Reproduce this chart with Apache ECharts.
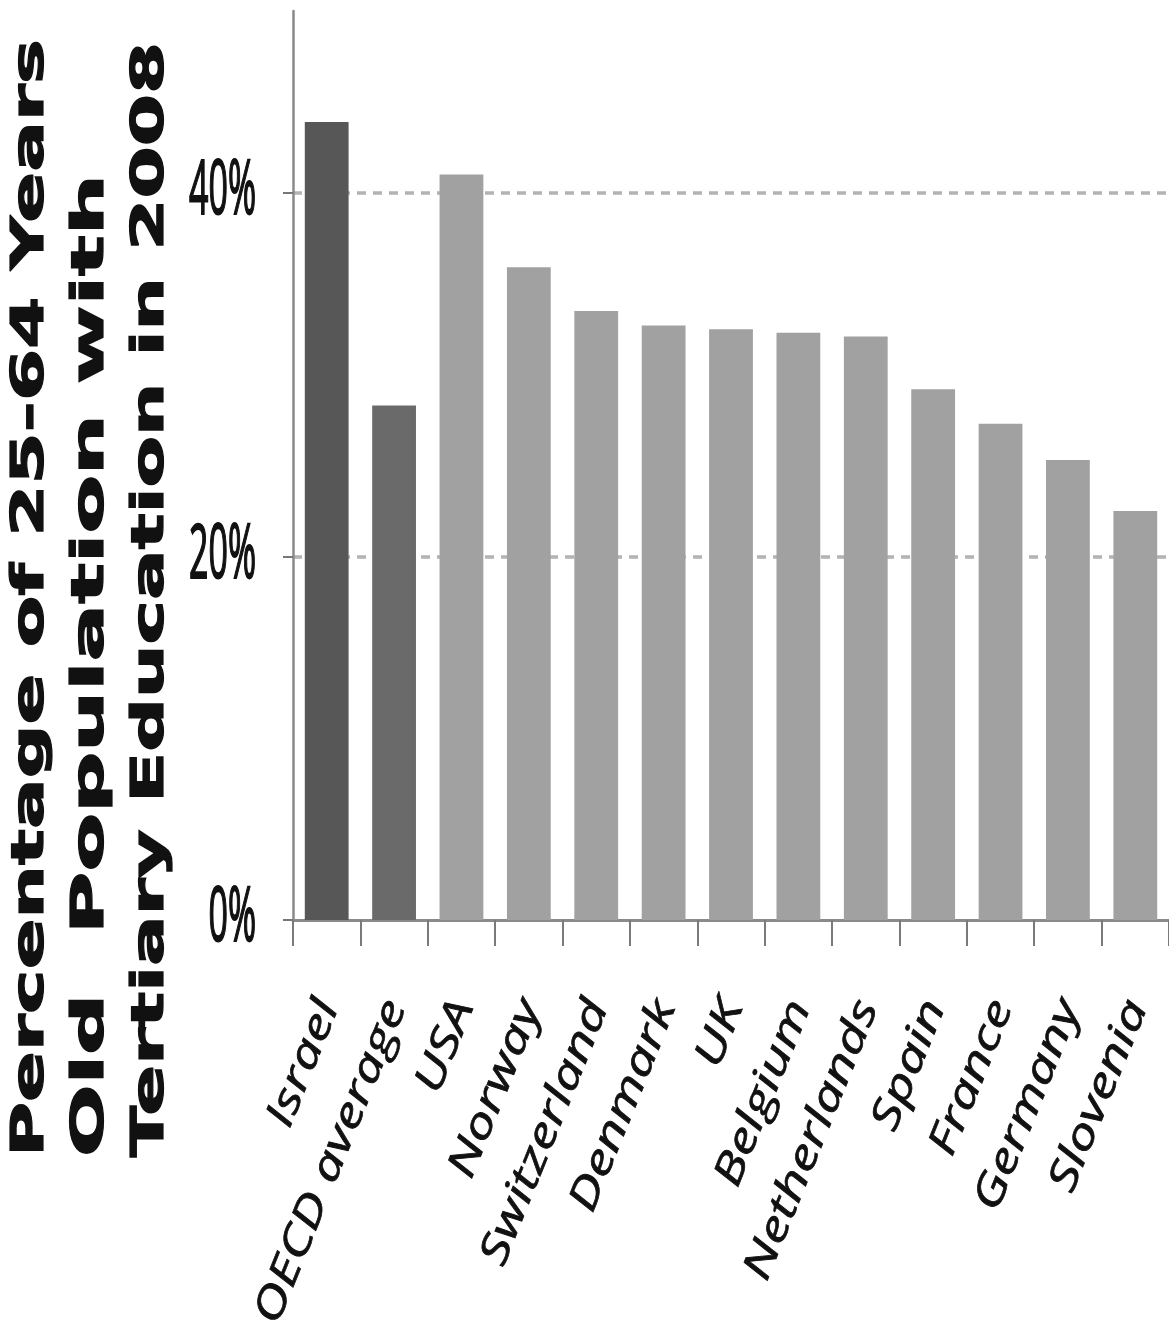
<!DOCTYPE html>
<html>
<head>
<meta charset="utf-8">
<script src="https://cdn.jsdelivr.net/npm/echarts@6/dist/echarts.min.js"></script>
<style>
  html, body { margin: 0; padding: 0; background: #fff; }
  #chart { width: 1169px; height: 1337px; }
</style>
</head>
<body>
<div id="chart"></div>
<script>
// countries, in the order they appear
var countries = ['Israel', 'OECD average', 'USA', 'Norway', 'Switzerland', 'Denmark', 'UK',
                 'Belgium', 'Netherlands', 'Spain', 'France', 'Germany', 'Slovenia'];
// share of 25-64 year olds with tertiary education, 2008 (%)
var shares = [43.9, 28.3, 41.0, 35.9, 33.5, 32.7, 32.5, 32.3, 32.1, 29.2, 27.3, 25.3, 22.5];
// y tick labels shown
var yTicks = [0, 20, 40];
// title lines (axis name)
var titleLines = ['Percentage of 25-64 Years', 'Old  Population with', 'Tertiary Education in 2008'];

var barColors = ['#575757', '#6a6a6a'];
var otherColor = '#a1a1a1';

var gridLeft = 293;
var chart = echarts.init(document.getElementById('chart'));

chart.setOption({
    animation: false,
    backgroundColor: '#ffffff',
    grid: { left: gridLeft, right: 0, top: 11, bottom: 417 },
    xAxis: {
        type: 'category',
        data: countries,
        boundaryGap: true,
        axisLine: { lineStyle: { color: '#8a8a8a', width: 3 } },
        axisTick: { show: true, interval: 0, length: 26, lineStyle: { color: '#7a7a7a', width: 2 } },
        axisLabel: { show: false, interval: 0 }
    },
    yAxis: {
        type: 'value',
        min: 0,
        max: 50,
        interval: 20,
        axisLine: { show: true, lineStyle: { color: '#8a8a8a', width: 2.5 } },
        axisTick: { show: true, customValues: yTicks, length: 10, lineStyle: { color: '#777777', width: 2 } },
        axisLabel: { show: false },
        splitLine: {
            show: true,
            showMinLine: false,
            lineStyle: { color: '#b3b3b3', width: 3.5, type: [9, 7] }
        }
    },
    series: [{
        type: 'bar',
        data: shares,
        barWidth: '65%',
        itemStyle: {
            color: function (p) {
                return p.dataIndex < barColors.length ? barColors[p.dataIndex] : otherColor;
            }
        }
    }]
});

// the source image is stretched vertically, so labels are drawn as scaled text
// placed with the axes' own pixel conversion
var graphics = [];

var titleX = [31, 91, 151];
var titleStretch = [1.67, 1.9, 1.67];
titleLines.forEach(function (line, i) {
    graphics.push({
        type: 'text',
        x: titleX[i],
        y: 1157,
        rotation: Math.PI / 2,
        scaleX: titleStretch[i],
        style: {
            text: line,
            fontFamily: 'DejaVu Sans',
            fontWeight: 'bold',
            fontSize: 45,
            align: 'left',
            verticalAlign: 'middle',
            fill: '#111111',
            stroke: '#111111',
            lineWidth: 1.2
        }
    });
});

yTicks.forEach(function (v) {
    graphics.push({
        type: 'text',
        x: gridLeft - 37,
        y: chart.convertToPixel({ yAxisIndex: 0 }, v),
        scaleY: 2.2,
        style: {
            text: v + '%',
            fontFamily: 'Open Sans',
            fontSize: 34,
            align: 'right',
            verticalAlign: 'middle',
            fill: '#111111',
            stroke: '#111111',
            lineWidth: 0.9
        }
    });
});

var axisY = chart.convertToPixel({ yAxisIndex: 0 }, 0);
countries.forEach(function (c) {
    graphics.push({
        type: 'text',
        x: chart.convertToPixel({ xAxisIndex: 0 }, c) + 2,
        y: axisY + 82,
        rotation: 68 * Math.PI / 180,
        scaleX: 1.38,
        style: {
            text: c,
            fontFamily: 'Open Sans',
            fontStyle: 'italic',
            fontSize: 40,
            align: 'right',
            verticalAlign: 'middle',
            fill: '#111111',
            stroke: '#111111',
            lineWidth: 0.7
        }
    });
});

chart.setOption({ graphic: graphics });
</script>
</body>
</html>
